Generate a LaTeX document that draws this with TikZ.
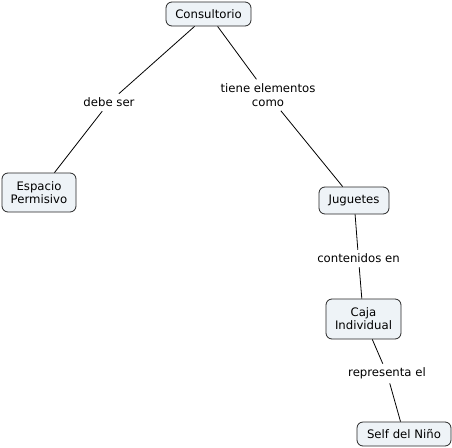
\documentclass[tikz,border=0pt]{standalone}
\usepackage{fontspec}
\setmainfont{DejaVu Sans}
\begin{document}
\begin{tikzpicture}[x=1pt,y=-1pt,
  concept/.style={draw=black!85, line width=0.8pt, rounded corners=6pt, fill=boxfill,
    align=center, inner sep=0pt, font=\fontsize{11.7}{13}\selectfont},
  linklabel/.style={align=center, inner xsep=2pt, inner ysep=4pt,
    font=\fontsize{11.7}{14}\selectfont},
  link/.style={draw=black, line width=0.8pt}]
\definecolor{boxfill}{RGB}{238,243,247}
\useasboundingbox (0,0) rectangle (452,447);
\node[concept, minimum width=85pt, minimum height=24pt] (cons) at (208.5,14) {Consultorio};
\node[concept, minimum width=74pt, minimum height=39pt] (esp) at (39,192.5) {Espacio\\Permisivo};
\node[concept, minimum width=70pt, minimum height=27pt] (jug) at (354,200.5) {Juguetes};
\node[concept, minimum width=75pt, minimum height=40pt] (caja) at (363.5,319) {Caja\\Individual};
\node[concept, minimum width=94pt, minimum height=24pt] (self) at (404,434) {Self del Niño};
\node[linklabel] (l1) at (109,102.5) {debe ser};
\node[linklabel] (l2) at (268,95) {tiene elementos\\como};
\node[linklabel] (l3) at (358.5,258.5) {contenidos en};
\node[linklabel] (l4) at (387,373.5) {representa el};
\draw[link] (cons) -- (l1) -- (esp);
\draw[link] (cons) -- (l2) -- (jug);
\draw[link] (jug) -- (l3) -- (caja);
\draw[link] (caja) -- (l4) -- (self);
\end{tikzpicture}
\end{document}
